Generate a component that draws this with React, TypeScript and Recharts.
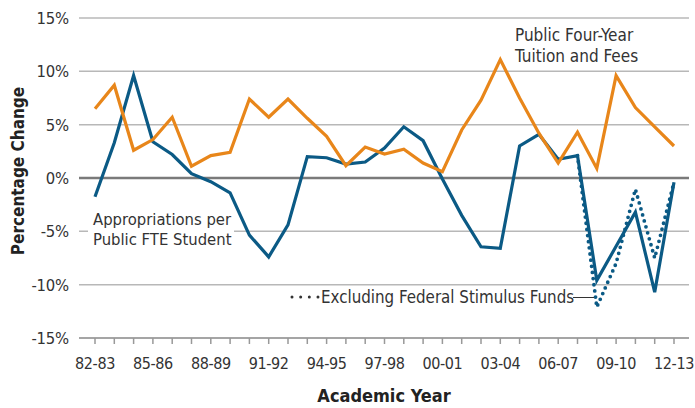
import React from 'react';
import { LineChart, Line, XAxis, YAxis, CartesianGrid, ReferenceLine } from 'recharts';

const years = [
  '82-83', '83-84', '84-85', '85-86', '86-87', '87-88', '88-89', '89-90', '90-91', '91-92',
  '92-93', '93-94', '94-95', '95-96', '96-97', '97-98', '98-99', '99-00', '00-01', '01-02',
  '02-03', '03-04', '04-05', '05-06', '06-07', '07-08', '08-09', '09-10', '10-11', '11-12', '12-13',
];

const tuitionFees = [
  6.5, 8.7, 2.6, 3.6, 5.7, 1.1, 2.1, 2.4, 7.4, 5.7,
  7.4, 5.6, 3.9, 1.15, 2.9, 2.25, 2.7, 1.4, 0.6, 4.5,
  7.3, 11.1, 7.5, 4.2, 1.4, 4.3, 0.9, 9.6, 6.6, 4.8, 3.0,
];

const appropriations = [
  -1.75, 3.3, 9.6, 3.4, 2.2, 0.4, -0.35, -1.4, -5.35, -7.4,
  -4.4, 2.0, 1.9, 1.3, 1.5, 2.8, 4.8, 3.5, -0.1, -3.5,
  -6.45, -6.6, 3.0, 4.1, 1.75, 2.1, -9.6, -6.4, -3.2, -10.7, -0.4,
];

const excludingStimulus: (number | null)[] = [
  null, null, null, null, null, null, null, null, null, null,
  null, null, null, null, null, null, null, null, null, null,
  null, null, null, null, null, 2.1, -12.1, -8.0, -1.05, -7.5, -0.4,
];

const yTicks = [-15, -10, -5, 0, 5, 10, 15];

const data = years.map((year, i) => ({
  year,
  tuition: tuitionFees[i],
  approp: appropriations[i],
  excl: excludingStimulus[i],
}));

const FONT = "'DejaVu Sans Condensed', 'Liberation Sans Narrow', 'Arial Narrow', sans-serif";
const BLUE = '#0b5a85';
const ORANGE = '#e8861a';
const TEXT = '#333333';

export default function App() {
  return (
    <div style={{ position: 'relative', width: 695, height: 408, fontFamily: FONT }}>
      <style>{'body{margin:0}'}</style>
      <LineChart
        width={695}
        height={408}
        data={data}
        margin={{ top: 18, right: 6, bottom: 0, left: 0 }}
      >
        <CartesianGrid vertical={false} stroke="#b8b8b8" strokeWidth={1.5} />
        <XAxis
          dataKey="year"
          interval={0}
          padding={{ left: 16, right: 15 }}
          height={70}
          tickSize={6}
          tickMargin={14}
          axisLine={{ stroke: '#999999', strokeWidth: 1.5 }}
          tickLine={{ stroke: '#999999', strokeWidth: 1.5 }}
          tick={{ fill: TEXT, fontSize: 16, fontFamily: FONT, letterSpacing: -0.4 }}
          tickFormatter={(v: string) => (years.indexOf(v) % 3 === 0 ? v : '')}
          label={{
            value: 'Academic Year',
            position: 'insideBottom',
            offset: 6,
            fill: '#222',
            fontSize: 18,
            fontWeight: 700,
            fontFamily: FONT,
          }}
        />
        <YAxis
          width={79}
          domain={[-15, 15]}
          ticks={yTicks}
          axisLine={false}
          tickLine={false}
          tickMargin={4}
          tick={{ fill: TEXT, fontSize: 16.5, fontFamily: FONT, letterSpacing: -0.2 }}
          tickFormatter={(v: number) => `${v}%`}
          label={{
            value: 'Percentage Change',
            angle: -90,
            position: 'center',
            dx: -21.5,
            dy: -7,
            fill: '#222',
            fontSize: 17,
            fontWeight: 700,
            fontFamily: FONT,
          }}
        />
        <ReferenceLine y={0} stroke="#7a7a7a" strokeWidth={2.5} />
        <Line
          dataKey="excl"
          stroke={BLUE}
          strokeWidth={3.8}
          strokeDasharray="0 6.2"
          strokeLinecap="round"
          dot={false}
          connectNulls={false}
          isAnimationActive={false}
        />
        <Line
          dataKey="approp"
          stroke={BLUE}
          strokeWidth={3.2}
          dot={false}
          isAnimationActive={false}
        />
        <Line
          dataKey="tuition"
          stroke={ORANGE}
          strokeWidth={3.2}
          dot={false}
          isAnimationActive={false}
        />
      </LineChart>
      <svg
        width={695}
        height={408}
        style={{ position: 'absolute', left: 0, top: 0, pointerEvents: 'none' }}
      >
        <text x={515} y={41} fontSize={17} fill={TEXT} fontFamily={FONT}>Public Four-Year</text>
        <text x={515} y={62} fontSize={17} fill={TEXT} fontFamily={FONT}>Tuition and Fees</text>
        <rect x={88} y={206} width={146} height={44} fill="#ffffff" />
        <text x={93} y={225} fontSize={16.5} fill={TEXT} fontFamily={FONT}>Appropriations per</text>
        <text x={93} y={245} fontSize={16.5} fill={TEXT} fontFamily={FONT}>Public FTE Student</text>
        <line x1={292} y1={297} x2={318} y2={297} stroke={TEXT} strokeWidth={3} strokeDasharray="0 8.66" strokeLinecap="round" />
        <text x={321} y={303} fontSize={16.8} fill={TEXT} fontFamily={FONT}>Excluding Federal Stimulus Funds</text>
        <line x1={573} y1={297.5} x2={594} y2={297.5} stroke={TEXT} strokeWidth={1} />
      </svg>
    </div>
  );
}
